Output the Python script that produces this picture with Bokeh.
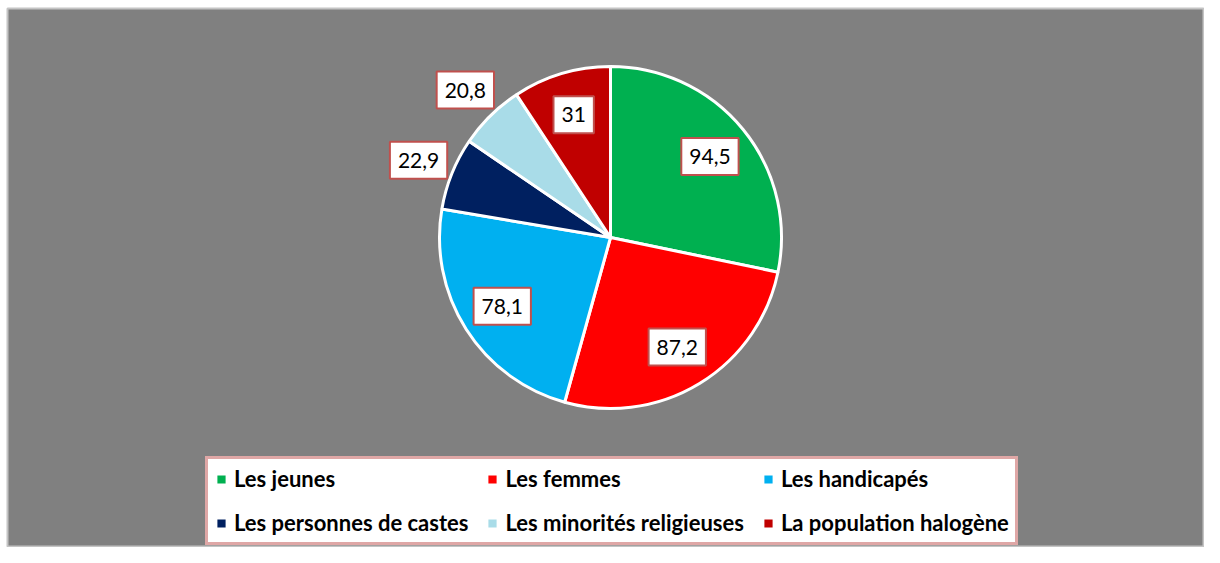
import math
from bokeh.plotting import figure
from bokeh.models import ColumnDataSource, Range1d, Legend, LegendItem
from bokeh.core.properties import value
from bokeh.embed import file_html
from bokeh.resources import INLINE

categories = ["Les jeunes", "Les femmes", "Les handicapés",
              "Les personnes de castes", "Les minorités religieuses", "La population halogène"]
values = [94.5, 87.2, 78.1, 22.9, 20.8, 31]
colors = ["#00b050", "#ff0000", "#00b0f0", "#002060", "#a9dce8", "#c00000"]

W, H = 1204, 547
LEFT, TOP = 7, 8
FW, FH = W - LEFT, H - TOP
CX, CY, R = 603, 310, 171

total = sum(values)
starts, ends, mids = [], [], []
a = math.pi / 2
for v in values:
    sweep = v / total * 2 * math.pi
    starts.append(a)
    ends.append(a - sweep)
    mids.append(a - sweep / 2)
    a -= sweep

def fmt(v):
    return ("%g" % v).replace(".", ",")

lx, ly = [], []
for v, m in zip(values, mids):
    frac = v / total
    f = 0.75 if frac > 0.08 else 1.21
    lx.append(CX + f * R * math.cos(m))
    ly.append(CY + f * R * math.sin(m))

lab = ColumnDataSource(dict(x=lx, y=ly, txt=[fmt(v) for v in values]))

p = figure(width=W, height=H, output_backend="svg", toolbar_location=None,
           x_range=Range1d(0, FW), y_range=Range1d(0, FH),
           min_border=0, min_border_left=LEFT, min_border_top=TOP)
p.axis.visible = False
p.grid.visible = False
p.background_fill_color = "#808080"
p.border_fill_color = "white"
p.outline_line_color = "#c4c4c4"
p.outline_line_width = 2

renderers = []
for i in range(len(values)):
    r = p.wedge(x=CX, y=CY, radius=R, start_angle=starts[i], end_angle=ends[i],
                direction="clock", fill_color=colors[i], line_color="white", line_width=3)
    renderers.append(r)

p.text(x="x", y="y", text="txt", source=lab, text_align="center", text_baseline="middle",
       text_font=value("Lato"), text_font_size="21px", text_color="black",
       background_fill_color="white", border_line_color="#c0504d", border_line_width=2,
       padding=(8, 11))

# Bokeh fills legend columns first; reorder so rows read left-to-right
order = [0, 3, 1, 4, 2, 5]
items = [LegendItem(label=categories[i], renderers=[renderers[i]]) for i in order]
legend = Legend(items=items, ncols=3, location=(198, 2),
                label_text_font="Lato", label_text_font_style="bold",
                label_text_font_size="22px", label_text_color="black",
                glyph_width=14, glyph_height=14, label_standoff=6, label_height=26,
                spacing=17, padding=6, margin=0,
                border_line_color="#c0504d", border_line_width=3,
                background_fill_color="white", background_fill_alpha=1.0)
p.add_layout(legend)

open("out.html", "w").write(file_html(p, INLINE))
